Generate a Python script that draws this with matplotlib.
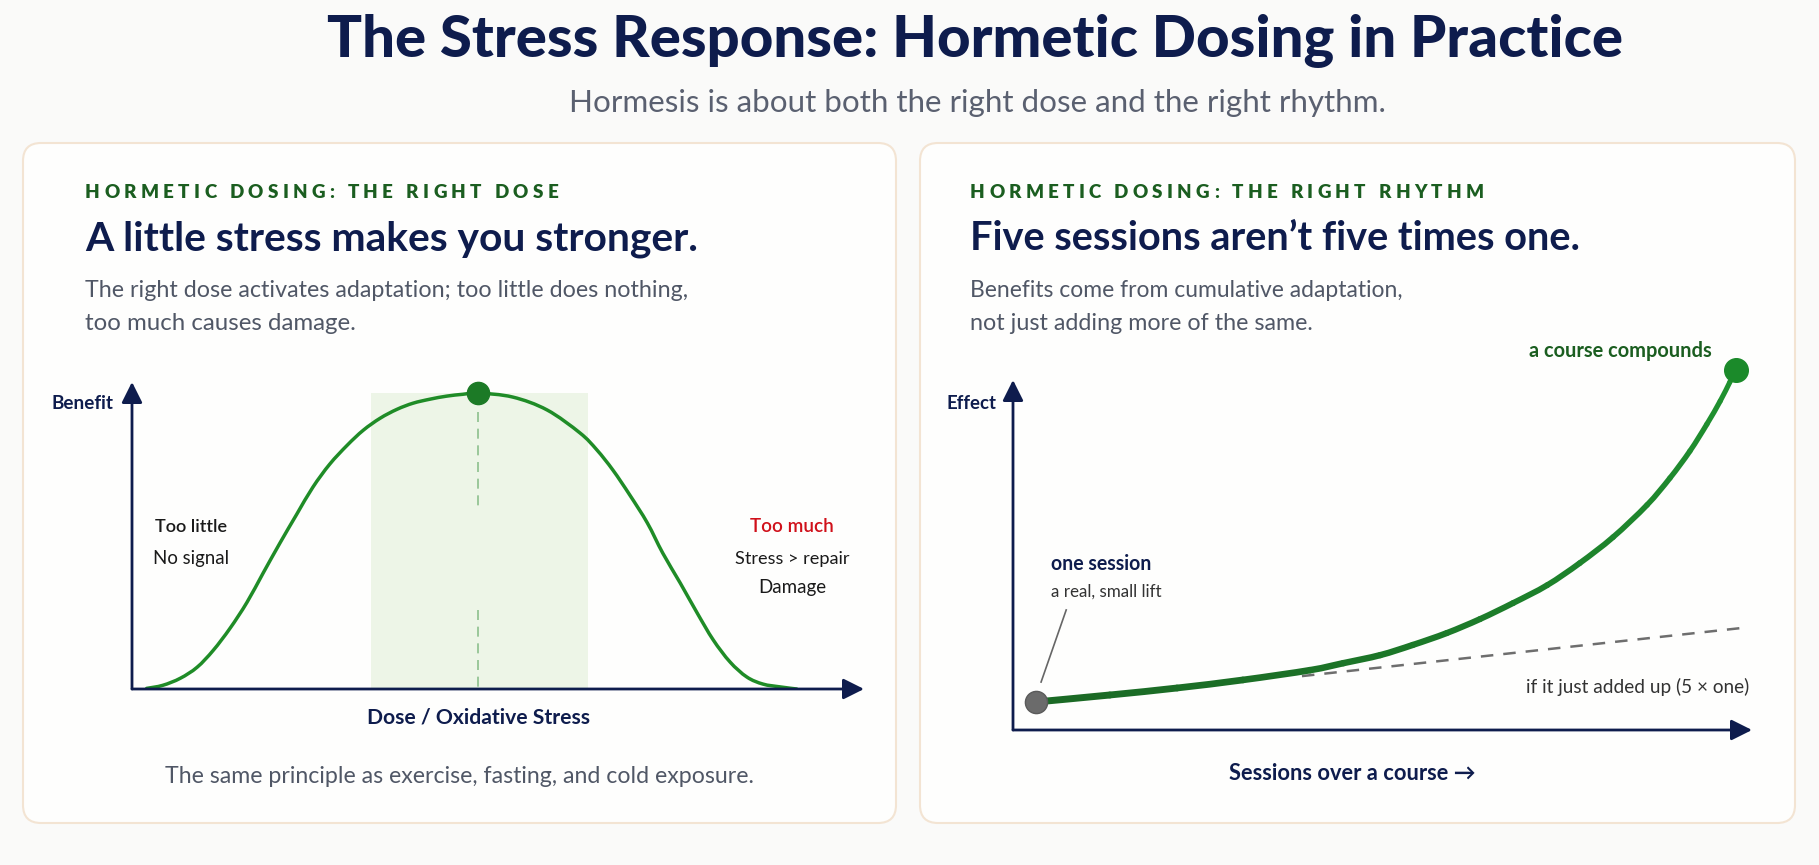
import numpy as np
import matplotlib
matplotlib.use("Agg")
import matplotlib.pyplot as plt
from matplotlib.patches import FancyBboxPatch, PathPatch
from matplotlib.path import Path
from matplotlib.colors import to_rgb

# ---- data ----
# left panel: benefit vs dose (hormetic curve)
dose = [0.20, 0.42, 0.66, 0.89, 1.11, 1.34, 1.57, 1.79, 2.02, 2.25, 2.47, 2.70,
        2.94, 3.16, 3.39, 3.62, 3.84, 4.07, 4.30, 4.52, 4.73, 5.20, 5.67, 6.12,
        6.35, 6.57, 6.80, 7.04, 7.25, 7.49, 7.72, 7.94, 8.17, 8.40, 8.62, 8.85, 9.08]
benefit = [0.002, 0.012, 0.035, 0.071, 0.126, 0.198, 0.282, 0.377, 0.475, 0.569,
           0.657, 0.732, 0.794, 0.843, 0.882, 0.911, 0.931, 0.944, 0.954, 0.960,
           0.964, 0.951, 0.909, 0.834, 0.779, 0.713, 0.632, 0.541, 0.443, 0.345,
           0.248, 0.160, 0.088, 0.039, 0.016, 0.007, 0.0]
adaptive_range = [3.26, 6.23]

# right panel: effect over sessions
sessions = [0.31, 1.31, 2.22, 3.11, 4.02, 4.47, 4.97, 5.41, 5.87, 6.32, 6.77,
            7.23, 7.67, 8.12, 8.58, 8.89, 9.16, 9.39, 9.57, 9.70, 9.78]
effect = [0.080, 0.100, 0.120, 0.143, 0.171, 0.191, 0.214, 0.243, 0.277, 0.317,
          0.363, 0.414, 0.477, 0.551, 0.643, 0.720, 0.797, 0.874, 0.940, 0.994, 1.029]
additive_sessions = [3.91, 9.84]
additive_effect = [0.154, 0.291]

title = "The Stress Response: Hormetic Dosing in Practice"
subtitle = "Hormesis is about both the right dose and the right rhythm."

NAVY = "#0e1c4d"
GREEN = "#1f8c27"
DKGREEN = "#1b5e20"
GRAY = "#505766"
RED = "#d0101a"

plt.rcParams["font.family"] = ["Lato", "DejaVu Sans"]

W, H = 1819, 865
fig = plt.figure(figsize=(W / 100, H / 100), dpi=100, facecolor="#fafaf9")
bg = fig.add_axes([0, 0, 1, 1])
bg.set_xlim(0, W)
bg.set_ylim(H, 0)
bg.axis("off")
renderer = fig.canvas.get_renderer()


def fit(x, y, s, width, ha="left", **kw):
    # text sized so that it spans `width` pixels
    t = bg.text(x, y, s, fontsize=20, ha=ha, va="baseline", **kw)
    w = t.get_window_extent(renderer).width
    t.set_fontsize(20 * width / w)
    return t


def spaced(x, y, s, width, size, **kw):
    # letter-spaced caps line
    def w_of(txt):
        t = bg.text(0, 0, txt, fontsize=size, **kw)
        w = t.get_window_extent(renderer).width
        t.remove()
        return w
    space = w_of("H H") - w_of("HH")
    widths = [space if ch == " " else w_of(ch) for ch in s]
    gap = (width - sum(widths)) / (len(s) - 1)
    cx = x
    for ch, w in zip(s, widths):
        if ch != " ":
            bg.text(cx, y, ch, fontsize=size, ha="left", va="baseline", **kw)
        cx += w + gap


def bezier_pieces(xs, ys):
    # smooth cubic pieces through the read points (Catmull-Rom -> Bezier)
    P = np.column_stack([xs, ys])
    n = len(P)
    pieces = []
    for i in range(n - 1):
        p0 = P[i - 1] if i > 0 else P[i]
        p3 = P[i + 2] if i + 2 < n else P[i + 1]
        c1 = P[i] + (P[i + 1] - p0) / 6
        c2 = P[i + 1] - (p3 - P[i]) / 6
        pieces.append([P[i], c1, c2, P[i + 1]])
    return pieces


def smooth_path(xs, ys):
    pieces = bezier_pieces(xs, ys)
    verts = [pieces[0][0]]
    codes = [Path.MOVETO]
    for pc in pieces:
        verts += pc[1:]
        codes += [Path.CURVE4] * 3
    return Path(verts, codes)


# cards
for x0, x1 in [(23, 896), (920, 1795)]:
    bg.add_patch(FancyBboxPatch((x0, 143), x1 - x0, 680,
                                boxstyle="round,pad=0,rounding_size=18",
                                fc="#fefefd", ec="#f3e4d3", lw=1.5))

# header
fit(975, 57, title, 1299, ha="center", color=NAVY, weight="black")
fit(977, 112, subtitle, 819, ha="center", color="#5a6070")

# card headers
spaced(85, 198, "HORMETIC DOSING: THE RIGHT DOSE", 473, 13.5, color=DKGREEN, weight="heavy")
fit(85, 250, "A little stress makes you stronger.", 613, color=NAVY, weight="bold")
fit(85, 297, "The right dose activates adaptation; too little does nothing,", 602, color=GRAY)
fit(85, 330, "too much causes damage.", 270, color=GRAY)

spaced(970, 198, "HORMETIC DOSING: THE RIGHT RHYTHM", 514, 13.5, color=DKGREEN, weight="heavy")
fit(970, 250, "Five sessions aren\u2019t five times one.", 612, color=NAVY, weight="bold")
fit(970, 297, "Benefits come from cumulative adaptation,", 432, color=GRAY)
fit(970, 330, "not just adding more of the same.", 342, color=GRAY)


def px_axes(x0, y0, x1, y1):
    ax = fig.add_axes([x0 / W, 1 - y1 / H, (x1 - x0) / W, (y1 - y0) / H])
    ax.set_facecolor("none")
    for sp in ax.spines.values():
        sp.set_visible(False)
    ax.set_xticks([])
    ax.set_yticks([])
    ax.set_xlim(0, 10)
    ax.set_ylim(0, 1)
    arrow = dict(arrowstyle="-|>,head_length=0.7,head_width=0.35", color=NAVY,
                 lw=2, shrinkA=0, shrinkB=0, mutation_scale=18)
    ax.annotate("", xy=(1, 0), xytext=(0, 0), xycoords="axes fraction", arrowprops=arrow)
    ax.annotate("", xy=(0, 1), xytext=(0, 0), xycoords="axes fraction", arrowprops=arrow)
    return ax


# ---- left panel ----
ax1 = px_axes(132, 382, 864, 689)
peak = int(np.argmax(benefit))
ax1.axvspan(adaptive_range[0], adaptive_range[1], ymin=0, ymax=benefit[peak],
            color="#edf5e7", lw=0, zorder=0)
ax1.plot([dose[peak]] * 2, [benefit[peak] * 0.935, 0.577], color="#8cbf8c",
         lw=1.2, dashes=(6, 4), zorder=1)
ax1.plot([dose[peak]] * 2, [0.257, 0.0], color="#8cbf8c", lw=1.2, dashes=(6, 4), zorder=1)
ax1.add_patch(PathPatch(smooth_path(dose, benefit), fill=False, ec=GREEN, lw=2.5,
                        capstyle="round", zorder=2))
ax1.plot(dose[peak], benefit[peak], "o", ms=16, color="#1c7a26", clip_on=False, zorder=3)

fit(51, 409, "Benefit", 62, color=NAVY, weight="bold")
fit(191, 532, "Too little", 72, ha="center", color="#1a1a1a", weight="semibold")
fit(191, 564, "No signal", 76, ha="center", color="#1a1a1a")
fit(482, 536, "Adaptive Range", 152, ha="center", color="#1d6b26", weight="bold")
fit(482, 575, "Stronger function", 152, ha="center", color="#1d6b26")
fit(481, 603, "& resilience", 100, ha="center", color="#1d6b26")
fit(792, 532, "Too much", 83, ha="center", color=RED, weight="semibold")
fit(792, 564, "Stress > repair", 115, ha="center", color="#1a1a1a")
fit(792, 593, "Damage", 68, ha="center", color="#1a1a1a")
fit(478, 724, "Dose / Oxidative Stress", 224, ha="center", color=NAVY, weight="bold")
fit(459, 783, "The same principle as exercise, fasting, and cold exposure.", 591,
    ha="center", color=GRAY)

# ---- right panel ----
ax2 = px_axes(1013, 380, 1752, 730)
ax2.plot(additive_sessions, additive_effect, color="#6e6e6e", lw=1.8, dashes=(5, 4), zorder=1)
c0, c1 = np.array(to_rgb("#1b6a25")), np.array(to_rgb("#1f9330"))
pieces = bezier_pieces(sessions, effect)
for k, pc in enumerate(pieces):
    f = k / (len(pieces) - 1)
    ax2.add_patch(PathPatch(Path(pc, [Path.MOVETO] + [Path.CURVE4] * 3), fill=False,
                            ec=c0 + (c1 - c0) * f, lw=5.0 - 1.4 * f,
                            capstyle="round", zorder=2))
ax2.plot(sessions[0], effect[0], "o", ms=16, color="#6b6b6b", mec="#5a5a5a",
         clip_on=False, zorder=3)
ax2.plot(sessions[-1], effect[-1], "o", ms=17, color="#1b8a2a", clip_on=False, zorder=3)
ax2.plot([0.72, 0.38], [0.343, 0.137], color="#666666", lw=1.2, zorder=1)

fit(946, 409, "Effect", 50, color=NAVY, weight="bold")
fit(1712, 357, "a course compounds", 182, ha="right", color=DKGREEN, weight="bold")
fit(1051, 570, "one session", 101, color=NAVY, weight="bold")
fit(1051, 597, "a real, small lift", 111, color="#333333")
fit(1749, 693, "if it just added up (5 \u00d7 one)", 224, ha="right", color="#333333")
fit(1352, 780, "Sessions over a course \u2192", 246, ha="center", color=NAVY, weight="bold")

fig.savefig("out.png", dpi=100, facecolor=fig.get_facecolor())
